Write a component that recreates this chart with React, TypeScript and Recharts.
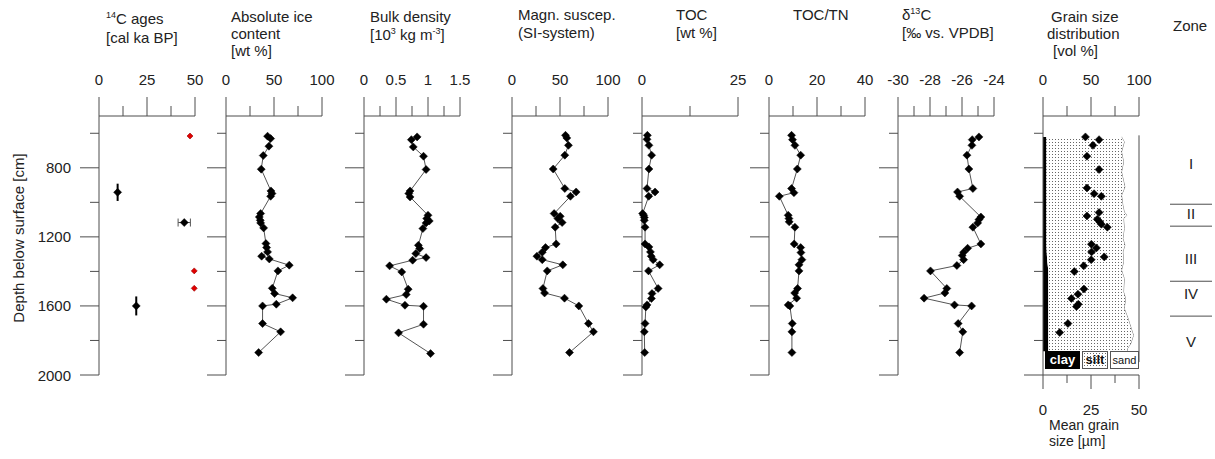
import React from 'react';
import { ComposedChart, Scatter, XAxis, YAxis, Area, ErrorBar, ReferenceLine } from 'recharts';

// ---------- depth axis ----------
const depthDomain = [500, 2000];
const depthTicks = [600, 800, 1000, 1200, 1400, 1600, 1800, 2000];
const depthLabeled = [800, 1200, 1600, 2000];

// ---------- 14C ages ----------
const c14Depth = [942, 1117, 1600];
const c14Age = [9.7, 44.4, 19.4];
const c14ErrDepth = [50, 0, 55];
const c14ErrAge = [0, 3.2, 0];
const c14RedDepth = [616, 1397, 1498];
const c14RedAge = [47.4, 49.6, 49.6];

// ---------- absolute ice content ----------
const iceDepth = [617, 631, 675, 729, 808, 934, 949, 965, 1065, 1085, 1104, 1119, 1148, 1239, 1262, 1287, 1312, 1328, 1364, 1397, 1498, 1528, 1553, 1590, 1600, 1702, 1750, 1870];
const iceValue = [43.3, 46.5, 44.7, 38.8, 36.7, 46.8, 47.9, 46.5, 36.1, 34.7, 35.7, 36.1, 39.2, 41.6, 42.3, 43.3, 37.1, 45.1, 65.9, 54.1, 48.2, 50.6, 69.4, 52.4, 38.1, 38.1, 56.9, 34.0];

// ---------- bulk density ----------
const bdDepth = [621, 637, 679, 733, 810, 934, 949, 969, 1075, 1094, 1108, 1119, 1152, 1249, 1268, 1297, 1320, 1335, 1368, 1403, 1503, 1534, 1561, 1596, 1602, 1706, 1756, 1876];
const bdValue = [0.83, 0.74, 0.77, 0.93, 0.97, 0.72, 0.70, 0.72, 1.00, 0.98, 1.02, 0.97, 0.92, 0.85, 0.87, 0.81, 0.97, 0.76, 0.40, 0.59, 0.69, 0.66, 0.35, 0.64, 0.93, 0.93, 0.54, 1.04];

// ---------- magnetic susceptibility ----------
const msDepth = [612, 627, 670, 727, 807, 920, 940, 965, 1065, 1081, 1094, 1117, 1144, 1241, 1262, 1289, 1312, 1332, 1362, 1397, 1499, 1525, 1555, 1600, 1702, 1750, 1870];
const msValue = [55.7, 57.1, 58.8, 55.0, 42.9, 55.0, 66.8, 60.9, 43.9, 50.2, 47.8, 52.2, 45.0, 46.0, 34.9, 31.5, 26.0, 31.5, 52.9, 36.7, 32.2, 33.9, 54.7, 69.6, 79.6, 84.8, 59.9];

// ---------- TOC ----------
const tocDepth = [612, 635, 670, 727, 807, 920, 940, 965, 1065, 1075, 1088, 1104, 1144, 1241, 1258, 1287, 1312, 1332, 1362, 1397, 1499, 1528, 1557, 1594, 1606, 1702, 1750, 1870];
const tocValue = [1.4, 1.3, 1.8, 2.5, 1.8, 1.3, 3.4, 1.75, 0.17, 0.44, 0.6, 0.6, 0.8, 0.8, 1.8, 2.2, 2.4, 2.9, 4.6, 1.7, 4.2, 2.6, 2.45, 1.3, 1.0, 0.8, 0.6, 0.7];

// ---------- TOC/TN ----------
const ctnDepth = [612, 637, 670, 727, 807, 920, 944, 965, 1075, 1094, 1113, 1144, 1241, 1262, 1291, 1332, 1362, 1397, 1499, 1525, 1555, 1594, 1600, 1702, 1750, 1870];
const ctnValue = [9.4, 9.8, 10.8, 13.2, 11.8, 9.4, 10.4, 4.3, 8.0, 8.3, 8.4, 10.8, 10.5, 13.2, 13.3, 13.7, 12.5, 12.5, 11.9, 10.7, 11.5, 8.0, 8.7, 9.7, 9.55, 9.55];

// ---------- d13C ----------
const d13Depth = [621, 637, 670, 727, 807, 920, 940, 965, 1085, 1100, 1119, 1144, 1241, 1266, 1289, 1308, 1332, 1366, 1397, 1499, 1525, 1555, 1594, 1600, 1702, 1750, 1870];
const d13Value = [-24.94, -25.36, -25.38, -25.69, -25.57, -25.32, -26.28, -26.15, -24.82, -24.94, -25.02, -25.32, -24.82, -25.65, -25.9, -25.99, -25.9, -26.32, -27.97, -26.95, -27.07, -28.37, -26.47, -25.4, -26.24, -25.95, -26.15];

// ---------- grain size ----------
const gsDepth = [621, 650, 708, 766, 824, 911, 959, 1017, 1056, 1075, 1094, 1152, 1210, 1249, 1287, 1345, 1393, 1441, 1519, 1557, 1615, 1664, 1722, 1770, 1818, 1847, 1862];
const gsClay = [3.5, 3.5, 3.5, 3.5, 3.5, 3.5, 3.5, 3.5, 3.5, 3.5, 3.5, 3.5, 3.5, 3.5, 3.8, 4.5, 5.5, 5.5, 5.5, 5.5, 5.5, 5.5, 5.5, 5.5, 5.5, 5.5, 5.5];
const gsClaySilt = [82.3, 85.1, 82.3, 84.4, 82.3, 85.8, 82.3, 83.7, 85.1, 87.9, 84.4, 85.1, 83.7, 85.8, 83.7, 84.4, 82.3, 85.1, 84.4, 86.5, 85.1, 88.5, 91.9, 94.7, 91.9, 88.5, 88.0];
const mgsDepth = [621, 637, 670, 733, 810, 917, 950, 965, 1059, 1079, 1098, 1114, 1127, 1144, 1243, 1264, 1287, 1316, 1332, 1368, 1401, 1502, 1532, 1557, 1590, 1604, 1702, 1754];
const mgsValue = [22.1, 29.2, 26.0, 22.9, 29.2, 22.9, 26.6, 30.4, 29.2, 22.9, 28.3, 29.6, 30.4, 33.5, 25.2, 27.8, 25.3, 31.9, 25.1, 21.2, 16.3, 21.3, 18.2, 14.8, 18.4, 17.4, 13.0, 8.7];

// ---------- zones ----------
const zoneBounds = [1011, 1138, 1457, 1659];
const zoneNames = ['I', 'II', 'III', 'IV', 'V'];
const zoneLabelDepth = [776, 1065, 1326, 1528, 1808];

// ---------- helpers ----------
const zip = (d: number[], v: number[]) => d.map((depth, i) => ({ depth, v: v[i] }));
const c14Data = c14Depth.map((depth, i) => ({
  depth,
  v: c14Age[i],
  errY: c14ErrDepth[i] || undefined,
  errX: c14ErrAge[i] || undefined,
}));
const c14Red = zip(c14RedDepth, c14RedAge);
const grainFill = gsDepth.map((depth, i) => ({
  depth,
  clay: gsClay[i],
  silt: gsClaySilt[i] - gsClay[i],
  sand: 100 - gsClaySilt[i],
}));
const grainMean = zip(mgsDepth, mgsValue);
const zoneLabels = zoneNames.map((name, i) => ({ depth: zoneLabelDepth[i], v: 0.5, name }));

const AX = '#4d4d4d';
const TXT = '#222';
const FONT = '"Liberation Sans", Arial, sans-serif';
const FS = 15;
const PLOT_TOP = 116;
const PLOT_H = 259;
const PLOT_BOTTOM = PLOT_TOP + PLOT_H;
const PANEL_W = 96;
const RIGHT_M = 18;

const near = (arr: number[], v: number) => arr.some((a) => Math.abs(a - v) < 1e-9);

const topTick = (labeled: number[]) => (p: any) => {
  const v = p.payload.value;
  const x = p.x;
  const major = near(labeled, v);
  return (
    <g>
      <line x1={x} x2={x} y1={PLOT_TOP} y2={PLOT_TOP - (major ? 19 : 10)} stroke={AX} strokeWidth={1} />
      {major && (
        <text x={x} y={PLOT_TOP - 37} textAnchor="middle" dominantBaseline="central" fontSize={FS} fill={TXT} fontFamily={FONT}>
          {String(v)}
        </text>
      )}
    </g>
  );
};

const bottomTick = (labeled: number[]) => (p: any) => {
  const v = p.payload.value;
  const x = p.x;
  const major = near(labeled, v);
  return (
    <g>
      <line x1={x} x2={x} y1={PLOT_BOTTOM} y2={PLOT_BOTTOM + (major ? 14 : 8)} stroke={AX} strokeWidth={1} />
      {major && (
        <text x={x} y={PLOT_BOTTOM + 34} textAnchor="middle" dominantBaseline="central" fontSize={FS} fill={TXT} fontFamily={FONT}>
          {String(v)}
        </text>
      )}
    </g>
  );
};

const leftTick = (axisX: number, showLabel: boolean) => (p: any) => {
  const v = p.payload.value;
  const y = p.y;
  const major = near(depthLabeled, v);
  return (
    <g>
      <line x1={axisX - (major ? 19 : 9)} x2={axisX} y1={y} y2={y} stroke={AX} strokeWidth={1} />
      {showLabel && major && (
        <text x={axisX - 28} y={y} textAnchor="end" dominantBaseline="central" fontSize={FS} fill={TXT} fontFamily={FONT}>
          {String(v)}
        </text>
      )}
    </g>
  );
};

const diamond = (r: number, fill: string, stroke?: string) => (p: any) => {
  const { cx, cy } = p;
  if (cx == null || cy == null) return <g />;
  return (
    <polygon
      points={`${cx},${cy - r} ${cx + r},${cy} ${cx},${cy + r} ${cx - r},${cy}`}
      fill={fill}
      stroke={stroke || fill}
      strokeWidth={stroke ? 0.6 : 0.5}
    />
  );
};

const zoneText = (p: any) => {
  const { cx, cy, payload } = p;
  if (cx == null || cy == null) return <g />;
  return (
    <text x={cx} y={cy} textAnchor="middle" dominantBaseline="central" fontSize={FS} fill={TXT} fontFamily={FONT}>
      {payload.name}
    </text>
  );
};

type ProfileProps = {
  plotLeft: number;
  domain: number[];
  ticks: number[];
  labeled: number[];
  yLabels?: boolean;
  children?: React.ReactNode;
};

function Profile({ plotLeft, domain, ticks, labeled, yLabels, children }: ProfileProps) {
  const yW = yLabels ? 99 : 22;
  return (
    <div style={{ position: 'absolute', left: plotLeft - yW, top: 0 }}>
      <ComposedChart
        layout="vertical"
        width={yW + PANEL_W + RIGHT_M}
        height={PLOT_BOTTOM + 15}
        margin={{ top: 0, right: RIGHT_M, bottom: 15, left: 0 }}
      >
        <XAxis
          type="number"
          dataKey="v"
          orientation="top"
          domain={domain}
          ticks={ticks}
          interval={0}
          height={PLOT_TOP}
          tickLine={false}
          axisLine={{ stroke: AX }}
          tick={topTick(labeled)}
        />
        <YAxis
          type="number"
          dataKey="depth"
          domain={depthDomain}
          ticks={depthTicks}
          interval={0}
          width={yW}
          tickLine={false}
          axisLine={{ stroke: AX }}
          tick={leftTick(yW, !!yLabels)}
        />
        {children}
      </ComposedChart>
    </div>
  );
}

const lineStyle = { stroke: '#555', strokeWidth: 1 };

function profileSeries(data: { depth: number; v: number }[]) {
  return (
    <Scatter data={data} line={lineStyle} lineType="joint" shape={diamond(4, '#000')} isAnimationActive={false} />
  );
}

const titleStyle: React.CSSProperties = {
  position: 'absolute',
  fontSize: FS,
  color: TXT,
  fontFamily: FONT,
  whiteSpace: 'nowrap',
};
const supStyle: React.CSSProperties = { fontSize: 9, lineHeight: 0, verticalAlign: 'super' };

export default function App() {
  const gsLeft = 1043.3;
  const gsYW = 22;
  return (
    <div
      style={{
        position: 'absolute',
        left: 0,
        top: 0,
        width: 1215,
        height: 459,
        background: '#fff',
        fontFamily: FONT,
        overflow: 'hidden',
      }}
    >
      {/* titles */}
      <div style={{ ...titleStyle, left: 106, top: 8.5, lineHeight: '19px' }}>
        <div>
          <span style={supStyle}>14</span>C ages
        </div>
        <div>[cal ka BP]</div>
      </div>
      <div style={{ ...titleStyle, left: 231, top: 7.5, lineHeight: '17px' }}>
        <div>Absolute ice</div>
        <div>content</div>
        <div>[wt %]</div>
      </div>
      <div style={{ ...titleStyle, left: 370, top: 7.5, lineHeight: '18px' }}>
        <div>Bulk density</div>
        <div>
          [10<span style={supStyle}>3</span> kg m<span style={supStyle}>-3</span>]
        </div>
      </div>
      <div style={{ ...titleStyle, left: 518, top: 6, lineHeight: '18px' }}>
        <div>Magn. suscep.</div>
        <div>(SI-system)</div>
      </div>
      <div style={{ ...titleStyle, left: 676, top: 6, lineHeight: '18px' }}>
        <div>TOC</div>
        <div>[wt %]</div>
      </div>
      <div style={{ ...titleStyle, left: 793, top: 6, lineHeight: '18px' }}>
        <div>TOC/TN</div>
      </div>
      <div style={{ ...titleStyle, left: 902, top: 6, lineHeight: '18px' }}>
        <div>
          δ<span style={supStyle}>13</span>C
        </div>
        <div>[‰ vs. VPDB]</div>
      </div>
      <div style={{ ...titleStyle, left: 1047, top: 8, lineHeight: '17px' }}>
        <div style={{ paddingLeft: 4 }}>Grain size</div>
        <div>distribution</div>
        <div style={{ paddingLeft: 6 }}>[vol %]</div>
      </div>
      <div style={{ ...titleStyle, left: 1173, top: 16.5, lineHeight: '17px' }}>Zone</div>
      <div
        style={{
          ...titleStyle,
          left: 18,
          top: 238,
          transform: 'translate(-50%, -50%) rotate(-90deg)',
        }}
      >
        Depth below surface [cm]
      </div>

      {/* panel 1: 14C ages */}
      <Profile plotLeft={99} domain={[0, 50]} ticks={[0, 12.5, 25, 37.5, 50]} labeled={[0, 25, 50]} yLabels>
        <Scatter data={c14Data} shape={diamond(4, '#000')} isAnimationActive={false}>
          <ErrorBar dataKey="errY" direction="y" width={0} stroke="#000" strokeWidth={2} />
          <ErrorBar dataKey="errX" direction="x" width={4} stroke="#555" strokeWidth={1} />
        </Scatter>
        <Scatter data={c14Red} shape={diamond(3, '#e00000', '#900')} isAnimationActive={false} />
      </Profile>

      {/* panel 2: ice content */}
      <Profile plotLeft={226} domain={[0, 100]} ticks={[0, 25, 50, 75, 100]} labeled={[0, 50, 100]}>
        {profileSeries(zip(iceDepth, iceValue))}
      </Profile>

      {/* panel 3: bulk density */}
      <Profile plotLeft={364} domain={[0, 1.5]} ticks={[0, 0.25, 0.5, 0.75, 1, 1.25, 1.5]} labeled={[0, 0.5, 1, 1.5]}>
        {profileSeries(zip(bdDepth, bdValue))}
      </Profile>

      {/* panel 4: magnetic susceptibility */}
      <Profile plotLeft={512.3} domain={[0, 100]} ticks={[0, 25, 50, 75, 100]} labeled={[0, 50, 100]}>
        {profileSeries(zip(msDepth, msValue))}
      </Profile>

      {/* panel 5: TOC */}
      <Profile plotLeft={642.3} domain={[0, 25]} ticks={[0, 12.5, 25]} labeled={[0, 25]}>
        {profileSeries(zip(tocDepth, tocValue))}
      </Profile>

      {/* panel 6: TOC/TN */}
      <Profile plotLeft={769} domain={[0, 40]} ticks={[0, 10, 20, 30, 40]} labeled={[0, 20, 40]}>
        {profileSeries(zip(ctnDepth, ctnValue))}
      </Profile>

      {/* panel 7: d13C */}
      <Profile plotLeft={898} domain={[-30, -24]} ticks={[-30, -29, -28, -27, -26, -25, -24]} labeled={[-30, -28, -26, -24]}>
        {profileSeries(zip(d13Depth, d13Value))}
      </Profile>

      {/* panel 8: grain size */}
      <div style={{ position: 'absolute', left: gsLeft - gsYW, top: 0 }}>
        <ComposedChart
          layout="vertical"
          width={gsYW + PANEL_W + RIGHT_M}
          height={PLOT_BOTTOM + 60}
          data={grainFill}
          margin={{ top: 0, right: RIGHT_M, bottom: 0, left: 0 }}
        >
          <defs>
            <pattern id="siltDots" width="3" height="3" patternUnits="userSpaceOnUse">
              <rect width="3" height="3" fill="#fff" />
              <rect x="1" y="1" width="1" height="1" fill="#666" />
            </pattern>
          </defs>
          <XAxis
            xAxisId="pct"
            type="number"
            orientation="top"
            domain={[0, 100]}
            ticks={[0, 25, 50, 75, 100]}
            interval={0}
            height={PLOT_TOP}
            tickLine={false}
            axisLine={{ stroke: AX }}
            tick={topTick([0, 50, 100])}
          />
          <XAxis
            xAxisId="mgs"
            type="number"
            dataKey="v"
            orientation="bottom"
            domain={[0, 50]}
            ticks={[0, 12.5, 25, 37.5, 50]}
            interval={0}
            height={60}
            tickLine={false}
            axisLine={{ stroke: AX }}
            tick={bottomTick([0, 25, 50])}
          />
          <YAxis
            type="number"
            dataKey="depth"
            domain={depthDomain}
            ticks={depthTicks}
            interval={0}
            width={gsYW}
            tickLine={false}
            axisLine={{ stroke: AX }}
            tick={leftTick(gsYW, false)}
          />
          <Area xAxisId="pct" type="linear" dataKey="clay" stackId="g" fill="#000" fillOpacity={1} stroke="none" isAnimationActive={false} />
          <Area xAxisId="pct" type="linear" dataKey="silt" stackId="g" fill="url(#siltDots)" fillOpacity={1} stroke="#777" strokeWidth={1} isAnimationActive={false} />
          <Area xAxisId="pct" type="linear" dataKey="sand" stackId="g" fill="#fff" fillOpacity={1} stroke="none" isAnimationActive={false} />
          <ReferenceLine
            xAxisId="pct"
            segment={[
              { x: 100, y: 612 },
              { x: 100, y: 1925 },
            ]}
            stroke={AX}
            ifOverflow="visible"
          />
          <Scatter xAxisId="mgs" data={grainMean} shape={diamond(4, '#000')} isAnimationActive={false} />
        </ComposedChart>
      </div>

      {/* grain-size legend boxes */}
      <div
        style={{
          position: 'absolute',
          left: 1045,
          top: 351,
          width: 35,
          height: 18,
          background: '#000',
          color: '#fff',
          fontWeight: 'bold',
          fontSize: 13,
          lineHeight: '18px',
          textAlign: 'center',
        }}
      >
        clay
      </div>
      <div
        style={{
          position: 'absolute',
          left: 1082,
          top: 351,
          width: 24,
          height: 16,
          border: '1px solid #555',
          backgroundColor: '#fff',
          backgroundImage: 'radial-gradient(#666 0.6px, transparent 0.9px)',
          backgroundSize: '3px 3px',
          fontWeight: 'bold',
          fontSize: 13,
          lineHeight: '16px',
          textAlign: 'center',
          color: '#111',
        }}
      >
        silt
      </div>
      <div
        style={{
          position: 'absolute',
          left: 1110,
          top: 351,
          width: 27,
          height: 16,
          border: '1px solid #555',
          background: '#fff',
          fontSize: 11,
          lineHeight: '16px',
          textAlign: 'center',
          color: '#111',
        }}
      >
        sand
      </div>
      <div style={{ ...titleStyle, fontSize: 14, left: 1049, top: 417, lineHeight: '16px' }}>
        <div>Mean grain</div>
        <div>size [µm]</div>
      </div>

      {/* zones */}
      <div style={{ position: 'absolute', left: 1160, top: 0 }}>
        <ComposedChart layout="vertical" width={55} height={PLOT_BOTTOM + 15} margin={{ top: PLOT_TOP, right: 3, bottom: 15, left: 10 }}>
          <XAxis type="number" dataKey="v" domain={[0, 1]} hide />
          <YAxis type="number" dataKey="depth" domain={depthDomain} hide />
          {zoneBounds.map((b) => (
            <ReferenceLine key={'b' + b} y={b} stroke={AX} strokeWidth={1} />
          ))}
          <Scatter data={zoneLabels} shape={zoneText} isAnimationActive={false} />
        </ComposedChart>
      </div>
    </div>
  );
}
